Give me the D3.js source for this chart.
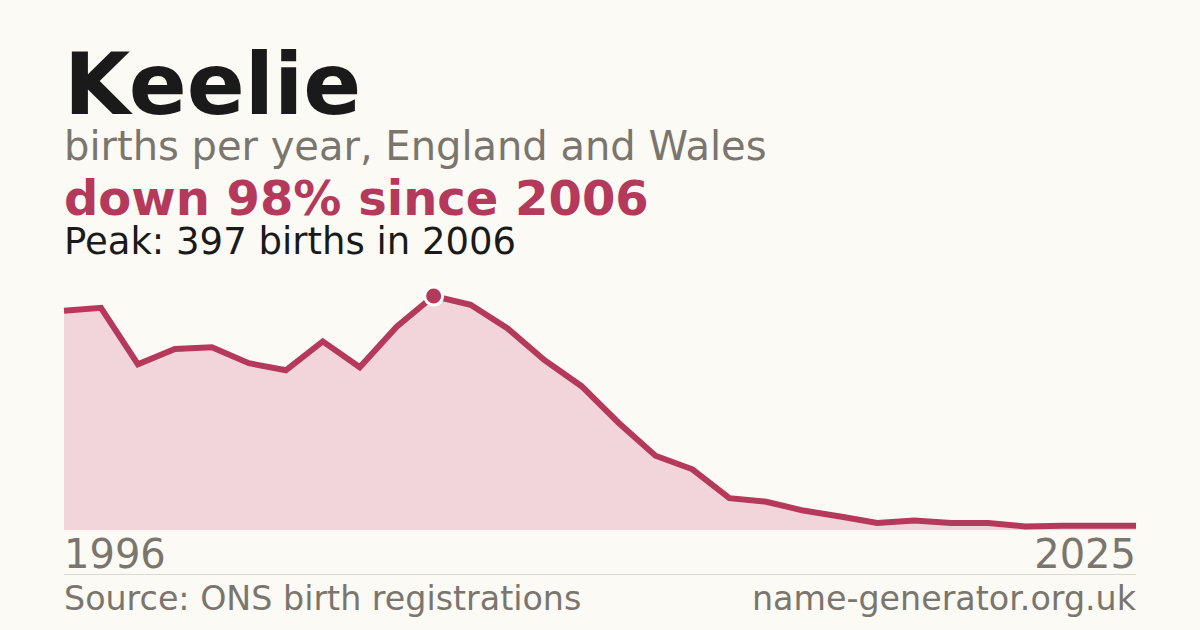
<!DOCTYPE html>
<html>
<head>
<meta charset="utf-8">
<script src="https://cdn.jsdelivr.net/npm/d3@7"></script>
<style>
  html, body { margin: 0; padding: 0; background: #fbfaf5; }
  svg { display: block; font-family: "DejaVu Sans", sans-serif; }
</style>
</head>
<body>
<svg id="chart" width="1200" height="630"></svg>
<script>
// data
var years = d3.range(1996, 2026);
var births = [372, 377, 281, 307, 310, 283, 271, 320, 276, 345,
              397, 382, 342, 288, 244, 182, 126, 103, 54, 48,
              33, 23, 12, 16, 12, 12, 6, 7, 7, 7];
var tickYears = [1996, 2025];

var accent = "#b5395a",
    grey = "#7a756d";

var svg = d3.select("#chart");

svg.append("rect")
    .attr("width", 1200)
    .attr("height", 630)
    .attr("fill", "#fbfaf5");

// header texts
svg.append("text")
    .attr("x", 64).attr("y", 114)
    .attr("font-size", 85.5).attr("font-weight", "bold")
    .attr("fill", "#1a1a1a")
    .text("Keelie");

svg.append("text")
    .attr("x", 64).attr("y", 160)
    .attr("font-size", 40)
    .attr("fill", grey)
    .text("births per year, England and Wales");

svg.append("text")
    .attr("x", 64).attr("y", 215)
    .attr("font-size", 48).attr("font-weight", "bold")
    .attr("fill", accent)
    .text("down 98% since 2006");

svg.append("text")
    .attr("x", 64).attr("y", 254)
    .attr("font-size", 37)
    .attr("fill", "#1a1a1a")
    .text("Peak: 397 births in 2006");

// scales
var x = d3.scaleLinear()
    .domain([d3.min(years), d3.max(years)])
    .range([64, 1136]);

var y = d3.scaleLinear()
    .domain([0, d3.max(births)])
    .range([530, 296]);

var data = years.map(function(yr, i) { return { year: yr, value: births[i] }; });

var area = d3.area()
    .x(function(d) { return x(d.year); })
    .y0(y(0))
    .y1(function(d) { return y(d.value); });

var line = d3.line()
    .x(function(d) { return x(d.year); })
    .y(function(d) { return y(d.value); });

svg.append("path")
    .datum(data)
    .attr("d", area)
    .attr("fill", "#f2d5da");

svg.append("path")
    .datum(data)
    .attr("d", line)
    .attr("fill", "none")
    .attr("stroke", accent)
    .attr("stroke-width", 6);

// peak marker
var peak = data[d3.maxIndex(data, function(d) { return d.value; })];
svg.append("circle")
    .attr("cx", x(peak.year))
    .attr("cy", y(peak.value))
    .attr("r", 9)
    .attr("fill", accent)
    .attr("stroke", "#ffffff")
    .attr("stroke-width", 3);

// year labels
svg.selectAll(".year-label")
    .data(tickYears)
    .enter().append("text")
    .attr("class", "year-label")
    .attr("x", function(d) { return x(d); })
    .attr("y", 568)
    .attr("font-size", 40)
    .attr("fill", grey)
    .attr("text-anchor", function(d, i) { return i == 0 ? "start" : "end"; })
    .text(function(d) { return d; });

// separator and footer
svg.append("line")
    .attr("x1", 64).attr("x2", 1136)
    .attr("y1", 574.5).attr("y2", 574.5)
    .attr("stroke", "#dcd9d2")
    .attr("stroke-width", 1);

svg.append("text")
    .attr("x", 64).attr("y", 610)
    .attr("font-size", 33.3)
    .attr("fill", grey)
    .text("Source: ONS birth registrations");

svg.append("text")
    .attr("x", 1136).attr("y", 610)
    .attr("font-size", 33.3)
    .attr("fill", grey)
    .attr("text-anchor", "end")
    .text("name-generator.org.uk");
</script>
</body>
</html>
